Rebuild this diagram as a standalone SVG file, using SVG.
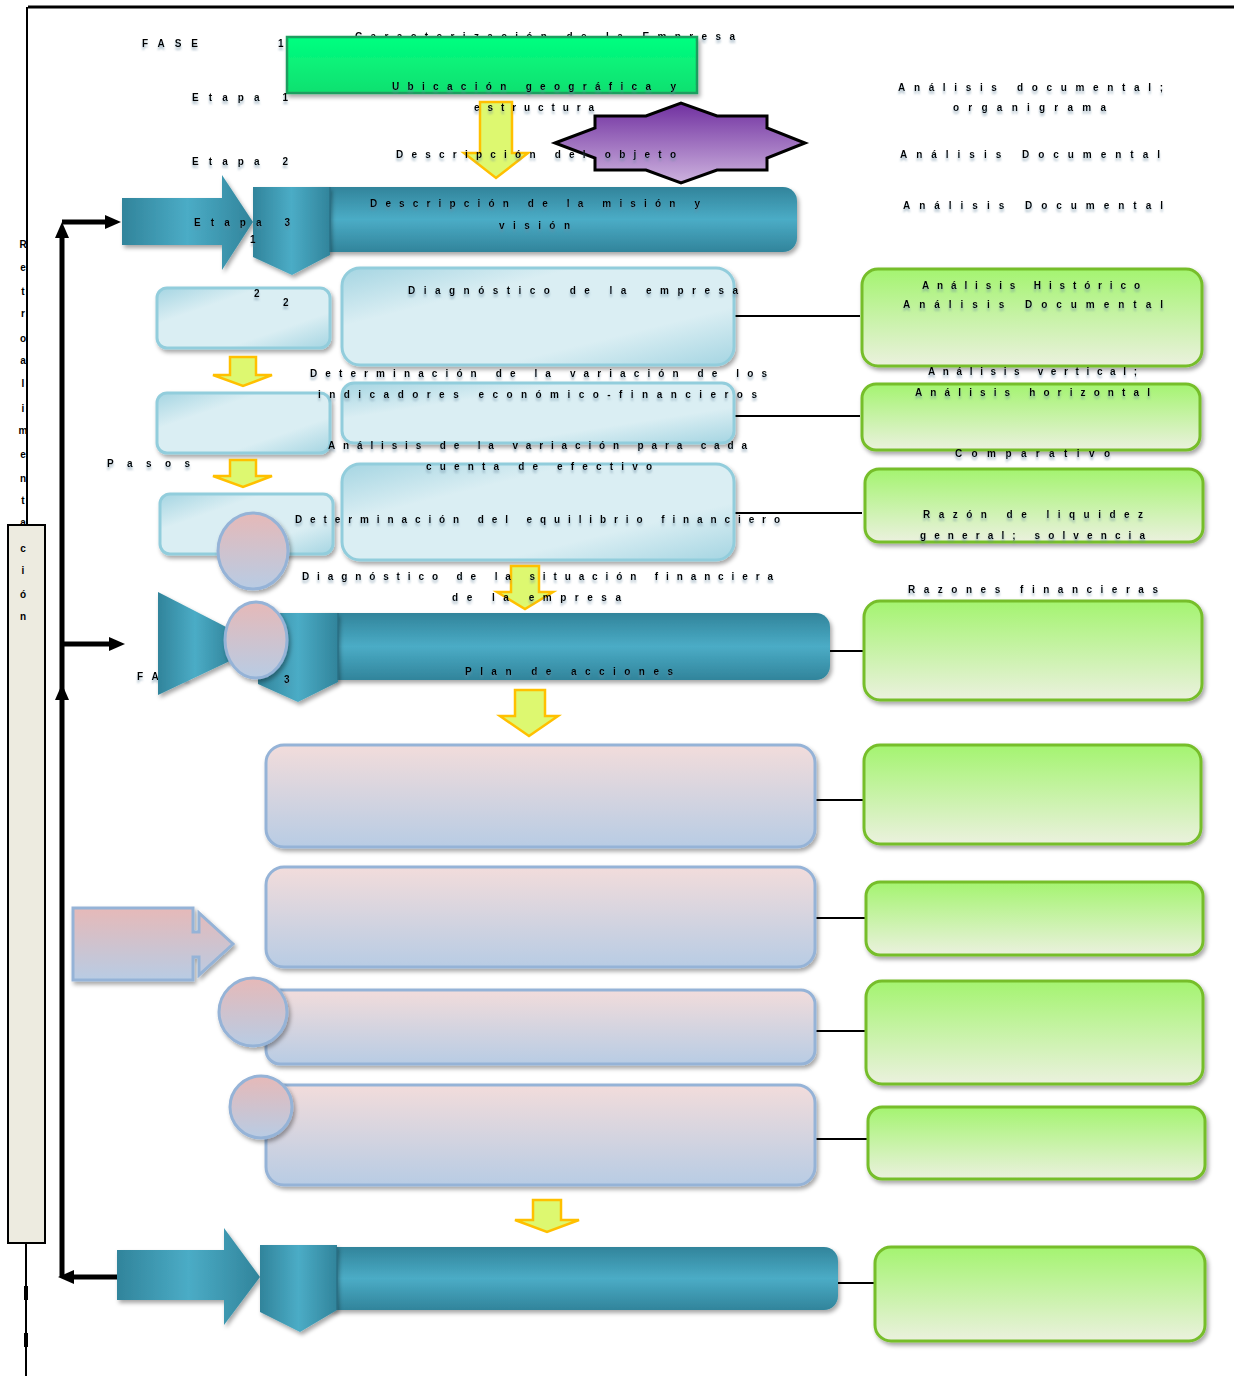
<svg xmlns="http://www.w3.org/2000/svg" width="1234" height="1376" viewBox="0 0 1234 1376">
<defs>
<filter id="sh" x="-10%" y="-10%" width="130%" height="140%"><feDropShadow dx="2" dy="3" stdDeviation="2" flood-color="#000" flood-opacity="0.35"/></filter>
<filter id="ts" x="-5%" y="-50%" width="110%" height="250%"><feDropShadow dx="0" dy="3" stdDeviation="1" flood-color="#6a8aa0" flood-opacity="0.6"/></filter>
<linearGradient id="gGreenTop" x1="0" y1="0" x2="0" y2="1"><stop offset="0" stop-color="#00FF80"/><stop offset="1" stop-color="#12E070"/></linearGradient>
<linearGradient id="gPurple" x1="0" y1="0" x2="0" y2="1"><stop offset="0" stop-color="#7030A0"/><stop offset="1" stop-color="#CDB2DE"/></linearGradient>
<linearGradient id="gTealV" x1="0" y1="0" x2="0" y2="1"><stop offset="0" stop-color="#31849B"/><stop offset="0.5" stop-color="#4BACC6"/><stop offset="1" stop-color="#31849B"/></linearGradient>
<linearGradient id="gTealH" x1="0" y1="0" x2="1" y2="0"><stop offset="0" stop-color="#31849B"/><stop offset="0.5" stop-color="#4BACC6"/><stop offset="1" stop-color="#31849B"/></linearGradient>
<linearGradient id="gLB" x1="0" y1="0" x2="1" y2="1"><stop offset="0" stop-color="#A5D5E2"/><stop offset="0.3" stop-color="#DAEEF3"/><stop offset="0.7" stop-color="#DAEEF3"/><stop offset="1" stop-color="#A5D5E2"/></linearGradient>
<linearGradient id="gPink" x1="0" y1="0" x2="0" y2="1"><stop offset="0" stop-color="#F2DCDB"/><stop offset="1" stop-color="#B8CCE4"/></linearGradient>
<linearGradient id="gPinkC" x1="0" y1="0" x2="0" y2="1"><stop offset="0" stop-color="#E6B9B8"/><stop offset="1" stop-color="#B8CCE4"/></linearGradient>
<linearGradient id="gGreen" x1="0" y1="0" x2="0" y2="1"><stop offset="0" stop-color="#A4F470"/><stop offset="1" stop-color="#EBF1DE"/></linearGradient>
<marker id="ah" markerWidth="6" markerHeight="6" refX="5" refY="3" orient="auto" markerUnits="strokeWidth"><path d="M0,0 L6,3 L0,6 z" fill="#000"/></marker>
</defs>
<style>
.t{font-family:"Liberation Sans",Arial,sans-serif;font-size:10px;font-weight:bold;fill:#000;filter:url(#ts)}
.lb{fill:url(#gLB);stroke:#92CDDC;stroke-width:3;filter:url(#sh)}
.gr{fill:url(#gGreen);stroke:#76BE2A;stroke-width:3;filter:url(#sh)}
.pk{fill:url(#gPink);stroke:#95B3D7;stroke-width:3;filter:url(#sh)}
.pc{fill:url(#gPinkC);stroke:#95B3D7;stroke-width:3;filter:url(#sh)}
.tealv{fill:url(#gTealV);filter:url(#sh)}
.tealh{fill:url(#gTealH);filter:url(#sh)}
.ya{fill:#DDF870;stroke:#FFC000;stroke-width:2.5}
.cn{stroke:#000;stroke-width:2;fill:none}
.fb{stroke:#000;stroke-width:5;fill:none}
</style>
<rect width="1234" height="1376" fill="#fff"/>

<!-- frame -->
<g id="frame">
<path d="M28,7 H1234" stroke="#000" stroke-width="3"/>
<path d="M27,7 V525" stroke="#000" stroke-width="2"/>
<path d="M26,1243 V1376" stroke="#000" stroke-width="2"/>
<path d="M26,1286 V1300 M26,1333 V1347" stroke="#000" stroke-width="4"/>
</g>

<g id="retro">
<rect x="8" y="525" width="37" height="718" fill="#EDEBE0" stroke="#000" stroke-width="2"/>
<text class="t" text-anchor="middle" style="filter:none" x="23 23 23 23 23 23 23 23 23 23 23 23 23 23 23 23 23" y="248 271 295 317 342 364 387 412 434 458 482 504 526 552 574 598 620">Retroalimentación</text>
</g>

<!-- header texts -->
<text class="t" x="142" y="47" textLength="56" lengthAdjust="spacing">FASE</text>
<text class="t" x="278" y="47">1</text>
<text class="t" x="355" y="40" textLength="380" lengthAdjust="spacing">Caracterización de la Empresa</text>

<g id="n-caracterizacion">
<rect x="287" y="37" width="410" height="56" fill="url(#gGreenTop)" stroke="#1A9E5E" stroke-width="2.5" filter="url(#sh)"/>
</g>

<g id="n-objeto">
<polygon points="555,143 595,128 595,116 646,116 681,103 717,116 767,116 767,128 805,143 767,158 767,170 717,170 681,183 646,170 595,170 595,158" fill="url(#gPurple)" stroke="#000" stroke-width="3"/>
</g>

<g id="arr1"><polygon class="ya" points="480,102 512,102 512,153 528,153 496,178 464,153 480,153"/></g>

<text class="t" x="192" y="101" textLength="96" lengthAdjust="spacing">Etapa 1</text>
<text class="t" x="392" y="90" textLength="284" lengthAdjust="spacing">Ubicación geográfica y</text>
<text class="t" x="474" y="111" textLength="120" lengthAdjust="spacing">estructura</text>
<text class="t" x="192" y="165" textLength="96" lengthAdjust="spacing">Etapa 2</text>
<text class="t" x="396" y="158" textLength="280" lengthAdjust="spacing">Descripción del objeto</text>

<!-- Etapa 3 row -->
<g id="n-etapa3">
<polygon class="tealh" points="122,198 222,198 222,175 253,222 222,270 222,245 122,245"/>
<rect class="tealv" x="300" y="187" width="497" height="65" rx="14"/>
<polygon class="tealh" points="253,187 330,187 330,255 292,275 253,257"/>
<path d="M330,187 V252" stroke="#2A7086" stroke-width="1.5"/>
</g>
<text class="t" x="194" y="226" textLength="96" lengthAdjust="spacing">Etapa 3</text>
<text class="t" x="250" y="243">1</text>
<text class="t" x="370" y="207" textLength="330" lengthAdjust="spacing">Descripción de la misión y</text>
<text class="t" x="499" y="229" textLength="71" lengthAdjust="spacing">visión</text>

<text class="t" x="898" y="91" textLength="265" lengthAdjust="spacing">Análisis documental;</text>
<text class="t" x="953" y="111" textLength="153" lengthAdjust="spacing">organigrama</text>
<text class="t" x="900" y="158" textLength="260" lengthAdjust="spacing">Análisis Documental</text>
<text class="t" x="903" y="209" textLength="260" lengthAdjust="spacing">Análisis Documental</text>

<!-- connectors -->
<g id="connectors">
<path class="cn" d="M734,316 H860"/>
<path class="cn" d="M734,416 H860"/>
<path class="cn" d="M733,513 H862"/>
<path class="cn" d="M830,651 H864"/>
<path class="cn" d="M815,800 H864"/>
<path class="cn" d="M815,918 H866"/>
<path class="cn" d="M815,1031 H866"/>
<path class="cn" d="M815,1139 H868"/>
<path class="cn" d="M838,1283 H875"/>
<path class="fb" d="M62,1277 V236"/>
<polygon points="62,222 55,238 69,238" fill="#000"/>
<polygon points="62,684 55,700 69,700" fill="#000"/>
<path class="fb" d="M62,222 H106"/>
<polygon points="121,222 105,215 105,229" fill="#000"/>
<path class="fb" d="M62,644 H110"/>
<polygon points="125,644 109,637 109,651" fill="#000"/>
<path class="fb" d="M117,1277 H74"/>
<polygon points="58,1277 74,1270 74,1284" fill="#000"/>
</g>

<!-- Pasos section -->
<g id="n-paso1"><rect class="lb" x="157" y="288" width="173" height="60" rx="10"/></g>
<g id="n-paso2"><rect class="lb" x="157" y="393" width="173" height="60" rx="10"/></g>
<g id="n-paso3"><rect class="lb" x="160" y="494" width="173" height="60" rx="10"/></g>
<g id="n-diag"><rect class="lb" x="342" y="268" width="392" height="97" rx="18"/></g>
<g id="n-var"><rect class="lb" x="342" y="383" width="392" height="60" rx="12"/></g>
<g id="n-equil"><rect class="lb" x="342" y="464" width="392" height="96" rx="18"/></g>

<g id="arr2"><polygon class="ya" points="230,357 256,357 256,375 272,375 243,386 213,375 230,375"/></g>
<g id="arr3"><polygon class="ya" points="230,460 256,460 256,476 272,476 243,487 213,476 230,476"/></g>

<text class="t" x="254" y="297">2</text>
<text class="t" x="283" y="306">2</text>
<text class="t" x="408" y="294" textLength="330" lengthAdjust="spacing">Diagnóstico de la empresa</text>
<text class="t" x="310" y="377" textLength="457" lengthAdjust="spacing">Determinación de la variación de los</text>
<text class="t" x="318" y="398" textLength="439" lengthAdjust="spacing">indicadores económico-financieros</text>
<text class="t" x="328" y="449" textLength="419" lengthAdjust="spacing">Análisis de la variación para cada</text>
<text class="t" x="426" y="470" textLength="226" lengthAdjust="spacing">cuenta de efectivo</text>
<text class="t" x="107" y="467" textLength="83" lengthAdjust="spacing">Pasos</text>

<g id="n-c1"><ellipse class="pc" cx="253" cy="551" rx="35" ry="38"/></g>
<text class="t" x="295" y="523" textLength="485" lengthAdjust="spacing">Determinación del equilibrio financiero</text>

<!-- right green boxes -->
<g id="n-g1"><rect class="gr" x="862" y="269" width="340" height="97" rx="16"/></g>
<g id="n-g2"><rect class="gr" x="862" y="384" width="338" height="66" rx="14"/></g>
<g id="n-g3"><rect class="gr" x="865" y="469" width="338" height="73" rx="14"/></g>
<g id="n-g4"><rect class="gr" x="864" y="601" width="338" height="99" rx="16"/></g>
<g id="n-g5"><rect class="gr" x="864" y="745" width="337" height="99" rx="16"/></g>
<g id="n-g6"><rect class="gr" x="866" y="882" width="337" height="73" rx="14"/></g>
<g id="n-g7"><rect class="gr" x="866" y="981" width="337" height="103" rx="16"/></g>
<g id="n-g8"><rect class="gr" x="868" y="1107" width="337" height="72" rx="14"/></g>
<g id="n-g9"><rect class="gr" x="875" y="1247" width="330" height="94" rx="16"/></g>

<text class="t" x="922" y="289" textLength="218" lengthAdjust="spacing">Análisis Histórico</text>
<text class="t" x="903" y="308" textLength="260" lengthAdjust="spacing">Análisis Documental</text>
<text class="t" x="928" y="375" textLength="209" lengthAdjust="spacing">Análisis vertical;</text>
<text class="t" x="915" y="396" textLength="235" lengthAdjust="spacing">Análisis horizontal</text>
<text class="t" x="955" y="457" textLength="155" lengthAdjust="spacing">Comparativo</text>
<text class="t" x="923" y="518" textLength="220" lengthAdjust="spacing">Razón de liquidez</text>
<text class="t" x="920" y="539" textLength="225" lengthAdjust="spacing">general; solvencia</text>
<text class="t" x="908" y="593" textLength="250" lengthAdjust="spacing">Razones financieras</text>

<!-- Fase 3 row -->
<text class="t" x="137" y="680" textLength="53" lengthAdjust="spacing">FASE</text>
<g id="n-fase3">
<polygon class="tealh" points="158,592 232,630 232,660 158,695"/>
<rect class="tealv" x="310" y="613" width="520" height="67" rx="14"/>
<polygon class="tealh" points="258,613 338,613 338,682 298,702 258,684"/>
<path d="M338,613 V680" stroke="#2A7086" stroke-width="1.5"/>
</g>
<g id="arr4"><polygon class="ya" points="511,566 539,566 539,592 553,592 525,609 497,592 511,592"/></g>
<text class="t" x="302" y="580" textLength="471" lengthAdjust="spacing">Diagnóstico de la situación financiera</text>
<text class="t" x="452" y="601" textLength="169" lengthAdjust="spacing">de la empresa</text>
<g id="n-c2"><ellipse class="pc" cx="256" cy="640" rx="31" ry="38"/></g>
<text class="t" x="284" y="683">3</text>
<text class="t" x="465" y="675" textLength="208" lengthAdjust="spacing">Plan de acciones</text>

<g id="arr5"><polygon class="ya" points="515,690 545,690 545,716 558,716 529,736 500,716 515,716"/></g>

<!-- pink boxes -->
<g id="n-p1"><rect class="pk" x="266" y="745" width="549" height="102" rx="18"/></g>
<g id="n-p2"><rect class="pk" x="266" y="867" width="549" height="100" rx="18"/></g>
<g id="n-p3"><rect class="pk" x="266" y="990" width="549" height="74" rx="14"/></g>
<g id="n-p4"><rect class="pk" x="266" y="1085" width="549" height="100" rx="18"/></g>
<g id="n-parrow"><polygon class="pc" points="73,908 193,908 193,932 199,932 199,913 233,944 199,975 199,957 193,957 193,980 73,980"/></g>
<g id="n-c3"><circle class="pc" cx="253" cy="1012" r="34"/></g>
<g id="n-c4"><circle class="pc" cx="261" cy="1107" r="31"/></g>

<g id="arr6"><polygon class="ya" points="533,1200 561,1200 561,1220 579,1220 547,1232 515,1220 533,1220"/></g>

<!-- bottom teal row -->
<g id="n-fase4">
<polygon class="tealh" points="117,1250 224,1250 224,1228 260,1277 224,1325 224,1300 117,1300"/>
<rect class="tealv" x="310" y="1247" width="528" height="63" rx="14"/>
<polygon class="tealh" points="260,1245 337,1245 337,1310 300,1332 260,1312"/>
<path d="M337,1247 V1310" stroke="#2A7086" stroke-width="1.5"/>
</g>
</svg>
